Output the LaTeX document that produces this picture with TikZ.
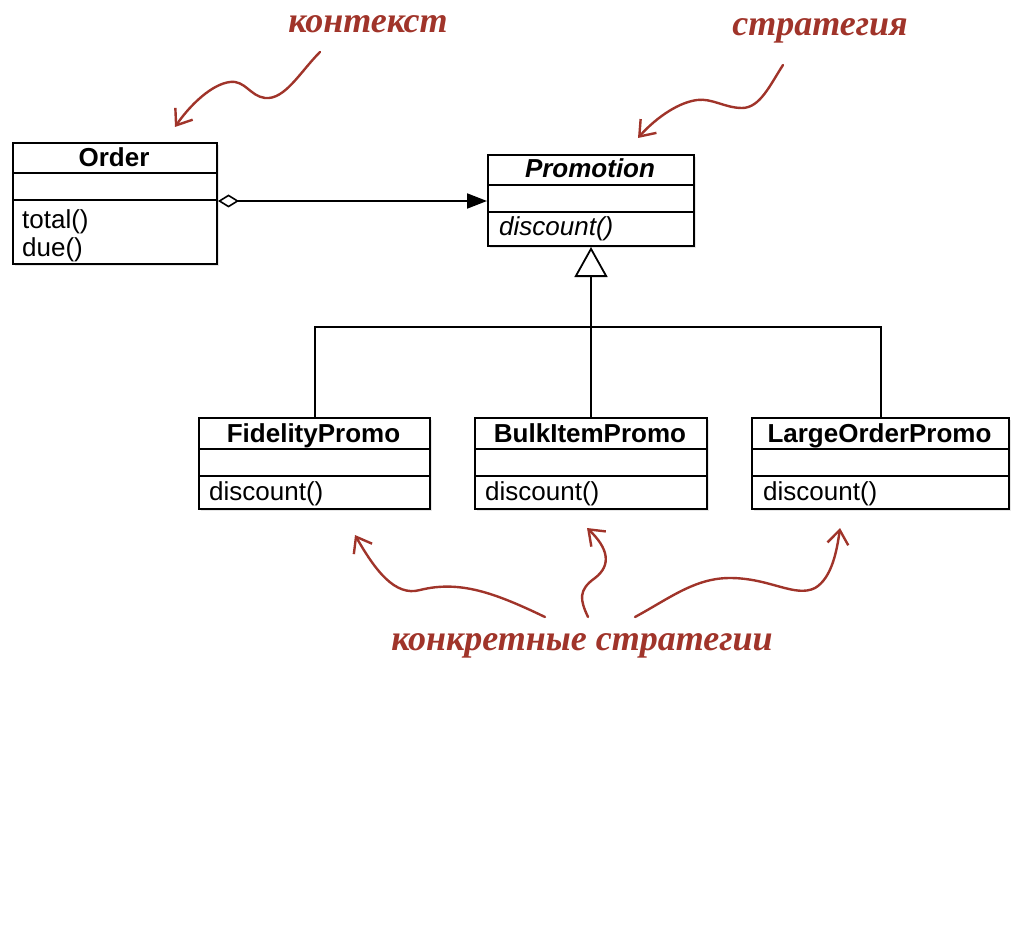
\documentclass[tikz,border=0pt]{standalone}
\usepackage{fontspec}
\setmainfont{Liberation Sans}
\newfontfamily\handfont{Liberation Serif}
\usetikzlibrary{arrows.meta,shadows}
\definecolor{annot}{RGB}{160,52,42}
\begin{document}
\begin{tikzpicture}[x=1pt,y=-1pt,
  umlbox/.style={draw=black, line width=2pt, fill=white, anchor=north west, inner sep=0pt,
    drop shadow={shadow xshift=2pt, shadow yshift=-2pt, opacity=0.2}},
  sep/.style={line width=2pt},
  ttl/.style={font=\fontsize{26}{30}\selectfont\bfseries, inner sep=0pt, anchor=base},
  meth/.style={font=\fontsize{26}{30}\selectfont, inner sep=0pt, anchor=base west},
  conn/.style={line width=2pt},
  hand/.style={draw=annot, line width=2.4pt, line cap=round, -{Straight Barb[length=14pt,width=21pt,line width=2.4pt]}},
  handtxt/.style={text=annot, font=\handfont\fontsize{36}{40}\selectfont\bfseries\itshape, inner sep=0pt, anchor=base}
]
\useasboundingbox (0,0) rectangle (1019,933);

% class boxes
\node[umlbox, minimum width=204pt, minimum height=121pt] (order) at (12,142) {};
\node[umlbox, minimum width=206pt, minimum height=91pt] (promo) at (487,154) {};
\node[umlbox, minimum width=231pt, minimum height=91pt] (fid) at (198,417) {};
\node[umlbox, minimum width=232pt, minimum height=91pt] (bulk) at (474,417) {};
\node[umlbox, minimum width=257pt, minimum height=91pt] (large) at (751,417) {};

% compartments
\draw[sep] (12,173) -- (216,173);
\draw[sep] (12,200) -- (216,200);
\draw[sep] (487,185) -- (693,185);
\draw[sep] (487,212) -- (693,212);
\draw[sep] (198,449) -- (429,449);
\draw[sep] (198,476) -- (429,476);
\draw[sep] (474,449) -- (706,449);
\draw[sep] (474,476) -- (706,476);
\draw[sep] (751,449) -- (1008,449);
\draw[sep] (751,476) -- (1008,476);

% texts
\node[ttl] (ordert) at (114,167) {Order};
\node[meth] (total) at (22,229) {total()};
\node[meth] (due) at (22,257) {due()};
\node[ttl, font=\fontsize{26}{30}\selectfont\bfseries\itshape] (promot) at (590,178) {Promotion};
\node[meth, font=\fontsize{26}{30}\selectfont\itshape] (promom) at (499,236) {discount()};
\node[ttl] (fidt) at (313.5,442) {FidelityPromo};
\node[meth] (fidm) at (209,500) {discount()};
\node[ttl] (bulkt) at (590,442) {BulkItemPromo};
\node[meth] (bulkm) at (485,500) {discount()};
\node[ttl] (larget) at (879.5,442) {LargeOrderPromo};
\node[meth] (largem) at (763,500) {discount()};

% aggregation
\draw[conn, {Diamond[open,length=21pt,width=13pt,line width=1.6pt]}-{Triangle[length=20pt,width=15pt]}]
  ([yshift=2.5pt]order.east) -- ([yshift=2.5pt]order.east -| promo.west);

% inheritance
\coordinate (bus) at (590,327);
\draw[conn] (fid.north) |- (bus) -| (large.north);
\draw[conn, -{Triangle[open,length=30pt,width=33pt,fill=white,line width=1.8pt]}] (bulk.north) -- (promo.south);

% annotations
\node[handtxt] (lctx) at (368,33) {контекст};
\node[handtxt] (lstr) at (820,36) {стратегия};
\node[handtxt] (lconc) at (582,650) {конкретные стратегии};

\coordinate (a1s) at (320,52);  \coordinate (a1e) at (175,127);
\coordinate (a2s) at (783,65);  \coordinate (a2e) at (638,138);
\coordinate (a3s) at (545,617); \coordinate (a3e) at (355,535);
\coordinate (a4s) at (588,617); \coordinate (a4e) at (587,528);
\coordinate (a5s) at (635,617); \coordinate (a5e) at (840,528);

\draw[hand] (a1s) .. controls (300,72) and (285,100) .. (265,98) .. controls (250,96) and (245,80) .. (230,82) .. controls (212,84) and (190,105) .. (a1e);
\draw[hand] (a2s) .. controls (770,85) and (760,108) .. (742,108) .. controls (725,108) and (712,98) .. (697,100) .. controls (675,103) and (652,122) .. (a2e);
\draw[hand] (a3s) .. controls (495,593) and (460,580) .. (420,590) .. controls (395,597) and (375,570) .. (a3e);
\draw[hand] (a4s) .. controls (580,600) and (578,590) .. (595,578) .. controls (612,565) and (608,548) .. (a4e);
\draw[hand] (a5s) .. controls (670,598) and (695,578) .. (730,578) .. controls (770,578) and (795,598) .. (815,588) .. controls (832,578) and (837,550) .. (a5e);
\end{tikzpicture}
\end{document}
